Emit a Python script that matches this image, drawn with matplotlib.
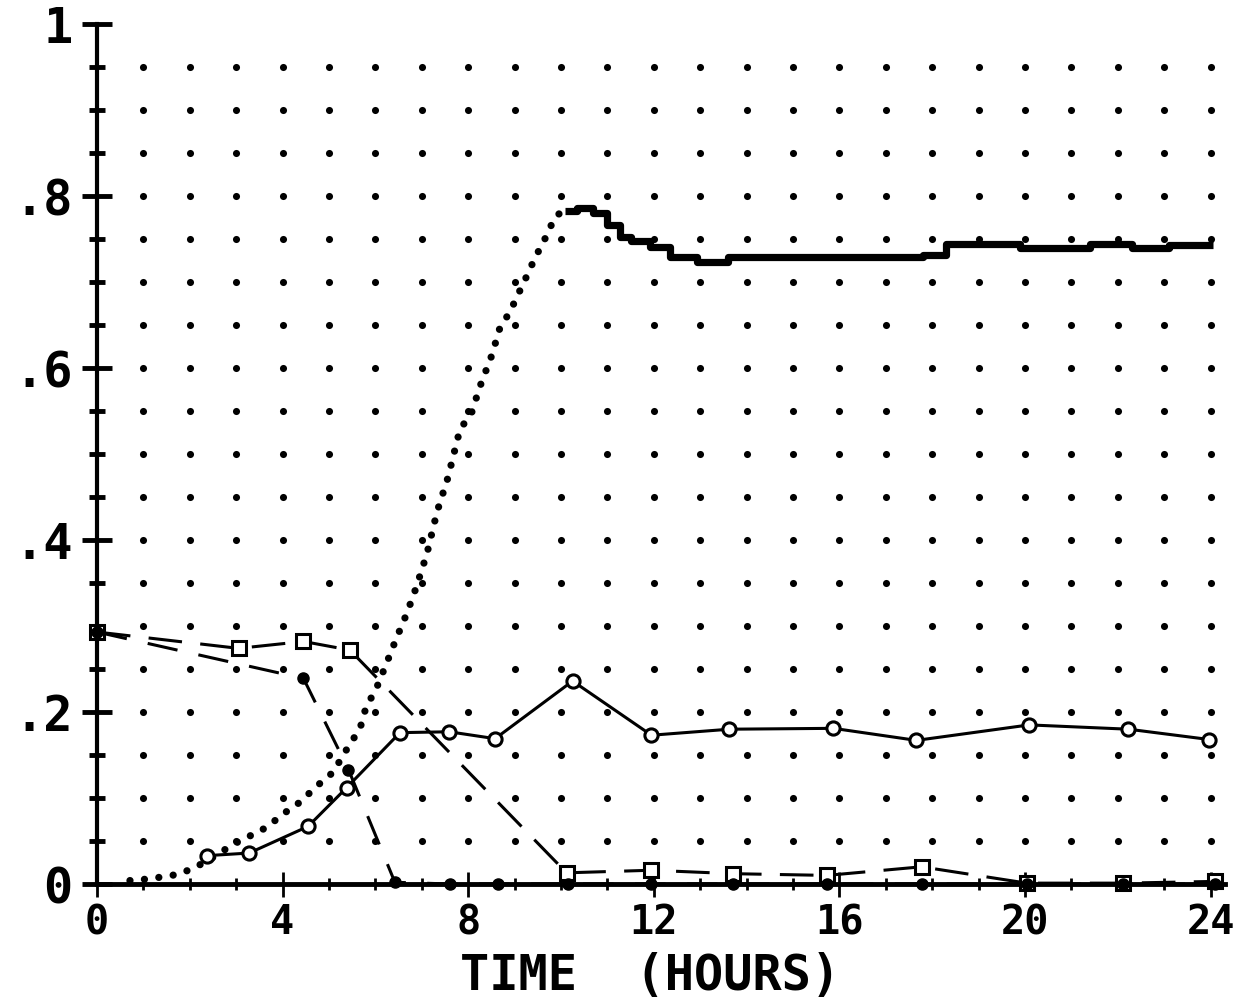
import numpy as np
import matplotlib
matplotlib.use("Agg")
import matplotlib.pyplot as plt

# ---- data (hours, fraction) ----
# continuous trace: rising part (dotted)
trace_rise_t = [0.71, 1.14, 1.72, 2.07, 2.44, 2.93, 3.30, 3.66, 4.00, 4.37,
                4.74, 5.09, 5.34, 5.67, 5.80, 6.01, 6.25, 6.44, 6.68, 6.88,
                7.11, 7.33, 7.56, 7.82, 8.08, 8.25, 8.51, 8.69, 8.90, 9.00,
                9.22, 9.44, 9.70, 9.87, 10.09]
trace_rise_v = [0.004, 0.006, 0.011, 0.018, 0.029, 0.046, 0.056, 0.066, 0.081, 0.095,
                0.114, 0.130, 0.153, 0.181, 0.206, 0.226, 0.258, 0.284, 0.315, 0.345,
                0.384, 0.433, 0.472, 0.528, 0.549, 0.578, 0.615, 0.648, 0.665, 0.677,
                0.702, 0.728, 0.755, 0.776, 0.784]
# continuous trace: plateau part (solid, stepped)
trace_flat_t = [10.09, 10.35, 10.70, 11.00, 11.27, 11.50, 11.92, 12.35, 12.93,
                13.60, 17.80, 18.30, 19.90, 21.40, 22.30, 23.10, 24.05]
trace_flat_v = [0.782, 0.786, 0.780, 0.766, 0.752, 0.748, 0.741, 0.729, 0.723,
                0.729, 0.731, 0.744, 0.740, 0.744, 0.740, 0.743, 0.743]

# open circles, solid line
circ_t = [2.38, 3.28, 4.55, 5.38, 6.53, 7.59, 8.58, 10.25, 11.95, 13.63,
          15.87, 17.66, 20.09, 22.23, 23.97]
circ_v = [0.033, 0.036, 0.067, 0.112, 0.176, 0.177, 0.169, 0.236, 0.173, 0.180,
          0.181, 0.167, 0.185, 0.180, 0.168]

# open squares, dashed line
sq_t = [0.0, 3.05, 4.45, 5.45, 10.12, 11.95, 13.71, 15.73, 17.77, 20.04, 22.12, 24.09]
sq_v = [0.293, 0.274, 0.282, 0.272, 0.013, 0.016, 0.012, 0.010, 0.020, 0.001, 0.001, 0.003]

# filled circles, dashed line
dot_t = [0.0, 4.45, 5.42, 6.42, 7.61, 8.65, 10.16, 11.95, 13.71, 15.73, 17.77, 20.04, 22.12, 24.09]
dot_v = [0.293, 0.239, 0.133, 0.002, 0.0, 0.0, 0.0, 0.0, 0.0, 0.0, 0.0, 0.0, 0.0, 0.0]

x_ticks = [0, 4, 8, 12, 16, 20, 24]
x_labels = ["0", "4", "8", "12", "16", "20", "24"]
y_ticks = [0.0, 0.2, 0.4, 0.6, 0.8, 1.0]
y_labels = ["0", ".2", ".4", ".6", ".8", "1"]

FONT = dict(family="DejaVu Sans Mono", weight="bold")

fig = plt.figure(figsize=(12.45, 9.99), dpi=100)
ax = fig.add_axes([97 / 1245, 115 / 999, 24.3 * 46.4 / 1245, 860 / 999])
ax.set_xlim(0, 24.3)
ax.set_ylim(0, 1.0)

# dot grid
gx, gy = np.meshgrid(np.arange(1, 25), np.arange(1, 20) * 0.05)
ax.scatter(gx.ravel(), gy.ravel(), s=26, color="black", linewidths=0,
           zorder=1, clip_on=False)

# continuous trace
ax.plot(trace_rise_t, trace_rise_v, color="black", lw=5.2,
        linestyle=(0, (0.01, 2.0)), dash_capstyle="round", zorder=3, clip_on=False)
ax.plot(trace_flat_t, trace_flat_v, color="black", lw=5.2,
        drawstyle="steps-post", solid_capstyle="butt", zorder=3, clip_on=False)

# open squares
ax.plot(sq_t, sq_v, color="black", lw=2.2, linestyle=(0, (11, 6)),
        marker="s", ms=10, mfc="white", mec="black", mew=2.2,
        zorder=4, clip_on=False)

# filled circles
ax.plot(dot_t, dot_v, color="black", lw=2.2, linestyle=(0, (10, 7)),
        marker="o", ms=8, mfc="black", mec="black",
        zorder=5, clip_on=False)

# open circles
ax.plot(circ_t, circ_v, color="black", lw=2.2, linestyle="-",
        marker="o", ms=9.5, mfc="white", mec="black", mew=2.2,
        zorder=6, clip_on=False)

# axes styling
for side in ("top", "right"):
    ax.spines[side].set_visible(False)
ax.spines["left"].set_linewidth(3)
ax.spines["bottom"].set_linewidth(3.5)
ax.spines["left"].set_zorder(7)
ax.spines["bottom"].set_zorder(7)

ax.set_xticks(x_ticks)
ax.set_xticklabels(x_labels)
ax.set_xticks(np.arange(0, 25, 1), minor=True)
ax.set_yticks(y_ticks)
ax.set_yticklabels(y_labels)
ax.set_yticks(np.arange(0, 1.0001, 0.05), minor=True)

ax.tick_params(axis="x", which="major", direction="inout", length=18, width=2,
               pad=5, labelsize=29)
ax.tick_params(axis="x", which="minor", direction="inout", length=9, width=2)
ax.tick_params(axis="y", which="major", direction="inout", length=21, width=3.5,
               pad=7, labelsize=35)
ax.tick_params(axis="y", which="minor", direction="inout", length=11.5, width=3.5)
for lab in ax.get_xticklabels() + ax.get_yticklabels():
    lab.set_fontfamily(FONT["family"])
    lab.set_fontweight(FONT["weight"])

fig.text(650 / 1245, 1 - 990 / 999, "TIME  (HOURS)", ha="center", va="baseline",
         fontsize=35, **FONT)

fig.savefig("out.png", dpi=100, facecolor="white")
